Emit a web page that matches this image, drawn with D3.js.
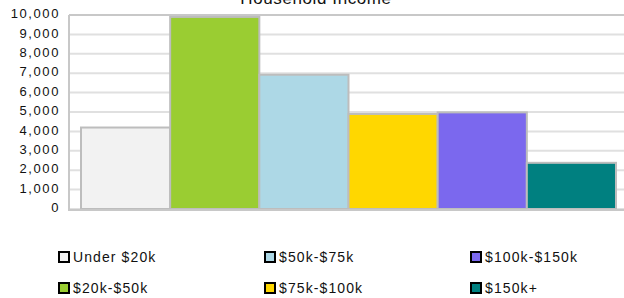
<!DOCTYPE html>
<html>
<head>
<meta charset="utf-8">
<script src="https://cdn.jsdelivr.net/npm/d3@7"></script>
<style>
  body { margin: 0; background: #fff; }
  text { font-family: "Liberation Sans", Arial, sans-serif; fill: #111; }
</style>
</head>
<body>
<script>
// chart data
var categories = ["Under $20k", "$20k-$50k", "$50k-$75k", "$75k-$100k", "$100k-$150k", "$150k+"];
var values = [4200, 9900, 6920, 4900, 4980, 2380];
var colors = ["#f2f2f2", "#9acd32", "#add8e6", "#ffd700", "#7b68ee", "#008080"];
var yTicks = [0, 1000, 2000, 3000, 4000, 5000, 6000, 7000, 8000, 9000, 10000];

var width = 624, height = 298;

var svg = d3.select("body").append("svg")
    .attr("width", width)
    .attr("height", height);

var x = d3.scaleBand().domain(categories).range([81, 616]).padding(0);
var y = d3.scaleLinear().domain([0, 10000]).range([209, 15]);

// grid lines
svg.append("g")
  .selectAll("line")
  .data(yTicks)
  .enter().append("line")
  .attr("x1", 69).attr("x2", width)
  .attr("y1", function(d) { return y(d); })
  .attr("y2", function(d) { return y(d); })
  .attr("stroke", function(d) { return d == 10000 ? "#c8c8c8" : "#e0e0e0"; })
  .attr("stroke-width", 2);

// y axis labels
var yAxis = d3.axisLeft(y).tickValues(yTicks).tickSize(0).tickPadding(9)
    .tickFormat(d3.format(","));
var yg = svg.append("g").attr("transform", "translate(69,0)").call(yAxis);
yg.select(".domain").remove();
yg.selectAll("text")
  .attr("dy", "0.2em")
  .style("font-size", "13px")
  .style("letter-spacing", "1.6px")
  .style("font-family", "'Liberation Sans', Arial, sans-serif")
  .attr("fill", "#111");

// bars
svg.append("g")
  .selectAll("rect")
  .data(values)
  .enter().append("rect")
  .attr("x", function(d, i) { return x(categories[i]); })
  .attr("y", function(d) { return y(d); })
  .attr("width", x.bandwidth())
  .attr("height", function(d) { return y(0) - y(d); })
  .attr("fill", function(d, i) { return colors[i]; })
  .attr("stroke", "#bdbdbd")
  .attr("stroke-width", 2);

// axis lines
svg.append("line").attr("x1", 69).attr("x2", 69).attr("y1", 15).attr("y2", 210)
  .attr("stroke", "#c8c8c8").attr("stroke-width", 2);
svg.append("line").attr("x1", 68).attr("x2", width).attr("y1", 210).attr("y2", 210)
  .attr("stroke", "#c8c8c8").attr("stroke-width", 2);

// title
svg.append("text")
  .attr("x", 316).attr("y", 4)
  .attr("text-anchor", "middle")
  .style("font-size", "17px")
  .style("letter-spacing", "0.6px")
  .text("Household Income");

// legend
var legend = svg.append("g").selectAll("g")
  .data(categories)
  .enter().append("g")
  .attr("transform", function(d, i) {
    var col = Math.floor(i / 2), row = i % 2;
    return "translate(" + (59 + col * 206) + "," + (252 + row * 31) + ")";
  });

legend.append("rect")
  .attr("width", 10).attr("height", 10)
  .attr("fill", function(d, i) { return colors[i]; })
  .attr("stroke", "#000")
  .attr("stroke-width", 2);

legend.append("text")
  .attr("x", 14).attr("y", 10)
  .style("font-size", "14px")
  .style("letter-spacing", "1.1px")
  .text(function(d) { return d; });
</script>
</body>
</html>
